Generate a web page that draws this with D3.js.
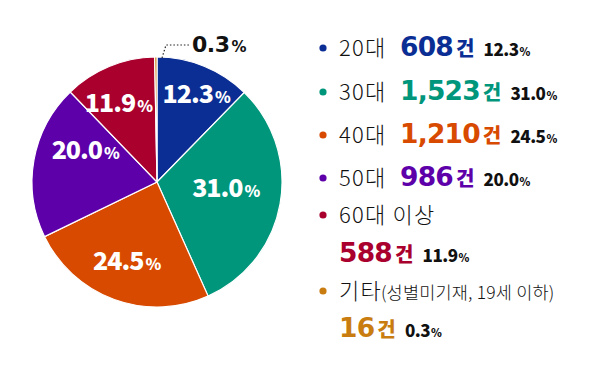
<!DOCTYPE html>
<html>
<head>
<meta charset="utf-8">
<script src="https://cdn.jsdelivr.net/npm/d3@7"></script>
<style>
  html, body { margin: 0; padding: 0; background: #fff; }
  svg { display: block; }
  text { font-family: "Noto Sans CJK KR", "Noto Sans", sans-serif; }
  .wide { font-family: "DejaVu Sans", "Noto Sans CJK KR", sans-serif; }
</style>
</head>
<body>
<div id="chart"></div>
<script>
// data
var categories = ["20대", "30대", "40대", "50대", "60대 이상", "기타"];
var notes = ["", "", "", "", "", "(성별미기재, 19세 이하)"];
var counts = [608, 1523, 1210, 986, 588, 16];
var shares = [12.3, 31.0, 24.5, 20.0, 11.9, 0.3];
var colors = ["#0b2e94", "#00967b", "#d84a00", "#5d00a9", "#a9002e", "#c97d10"];

var width = 600, height = 375;
var cx = 157, cy = 182, radius = 125;

var svg = d3.select("#chart").append("svg")
    .attr("width", width)
    .attr("height", height);

var rows = categories.map(function(c, i) {
  return {cat: c, note: notes[i], count: counts[i], share: shares[i], color: colors[i]};
});

var pie = d3.pie()
    .sort(null)
    .value(function(d) { return d.share; });

var arc = d3.arc()
    .innerRadius(0)
    .outerRadius(radius);

var labelArc = d3.arc()
    .innerRadius(80)
    .outerRadius(80);

var g = svg.append("g")
    .attr("transform", "translate(" + cx + "," + cy + ")");

var slices = pie(rows);

g.selectAll("path.slice")
    .data(slices)
  .enter().append("path")
    .attr("class", "slice")
    .attr("d", arc)
    .attr("fill", function(d) { return d.data.color; })
    .attr("stroke", "#fff")
    .attr("stroke-width", 1.2);

// hand nudges so labels sit like in the original
var nudge = [[9, -5], [-10, 1], [-3, 13], [7, -9], [-8, 4]];

var pct = g.selectAll("text.pct")
    .data(slices.filter(function(d) { return d.data.share >= 1; }))
  .enter().append("text")
    .attr("class", "pct")
    .attr("text-anchor", "middle")
    .attr("x", function(d, i) { return labelArc.centroid(d)[0] + nudge[i][0]; })
    .attr("y", function(d, i) { return labelArc.centroid(d)[1] + nudge[i][1]; })
    .attr("fill", "#fff")
    .style("font-weight", 900)
    .style("letter-spacing", "-1px");

pct.append("tspan")
    .style("font-size", "25px")
    .text(function(d) { return d.data.share.toFixed(1); });
pct.append("tspan")
    .attr("dx", 2)
    .style("font-size", "16px")
    .text("%");

// the tiny slice gets an outside label with a dotted leader
var small = slices.filter(function(d) { return d.data.share < 1; })[0];
var p0 = [5, -radius + 1];
var p1 = [9, -radius - 12];
var p2 = [33, -radius - 12];

g.append("path")
    .attr("d", d3.line()([p0, p1, p2]))
    .attr("fill", "none")
    .attr("stroke", "#222")
    .attr("stroke-width", 1.2)
    .attr("stroke-dasharray", "1.5,2");

var sl = g.append("text")
    .attr("class", "wide")
    .attr("x", p2[0] + 2)
    .attr("y", p2[1] + 7)
    .attr("fill", "#111")
    .style("font-weight", 700)
    .style("letter-spacing", "-0.5px");
sl.append("tspan").style("font-size", "22px").text(small.data.share.toFixed(1));
sl.append("tspan").attr("dx", 2).style("font-size", "15px").text("%");

// legend
var legX = 339;
var labelY = [56, 100, 143, 186, 223, 299];
var countY = [56, 100, 143, 186, 262, 337];

var leg = svg.append("g").attr("class", "legend");

rows.forEach(function(d, i) {
  var wrap = labelY[i] !== countY[i];

  leg.append("circle")
      .attr("cx", 323)
      .attr("cy", labelY[i] - 8)
      .attr("r", 3.6)
      .attr("fill", d.color);

  var lab = leg.append("text")
      .attr("x", legX)
      .attr("y", labelY[i])
      .attr("fill", "#111")
      .style("font-weight", 300)
      .style("font-size", "22px")
      .style("letter-spacing", "1.2px");
  lab.append("tspan").text(d.cat);
  if (d.note) {
    lab.append("tspan")
        .attr("dx", -1)
        .style("font-size", "17.5px")
        .style("letter-spacing", "0.2px")
        .text(d.note);
  }

  var cX = wrap ? legX : 400;
  var cnt = leg.append("text")
      .attr("class", "wide")
      .attr("x", cX)
      .attr("y", countY[i])
      .attr("fill", d.color)
      .style("font-weight", 700)
      .style("letter-spacing", "-0.8px");
  cnt.append("tspan").style("font-size", "26.5px").text(d3.format(",")(d.count));
  cnt.append("tspan").attr("dx", 3).style("font-size", "20px").style("font-weight", 900).text("건");

  var w = cnt.node().getComputedTextLength();
  var pt = leg.append("text")
      .attr("x", cX + w + 13)
      .attr("y", countY[i])
      .attr("fill", "#111")
      .style("font-weight", 900)
      .style("letter-spacing", "-0.5px");
  pt.append("tspan").style("font-size", "17px").text(d.share.toFixed(1));
  pt.append("tspan").attr("dx", 1).style("font-size", "11px").text("%");
});
</script>
</body>
</html>
